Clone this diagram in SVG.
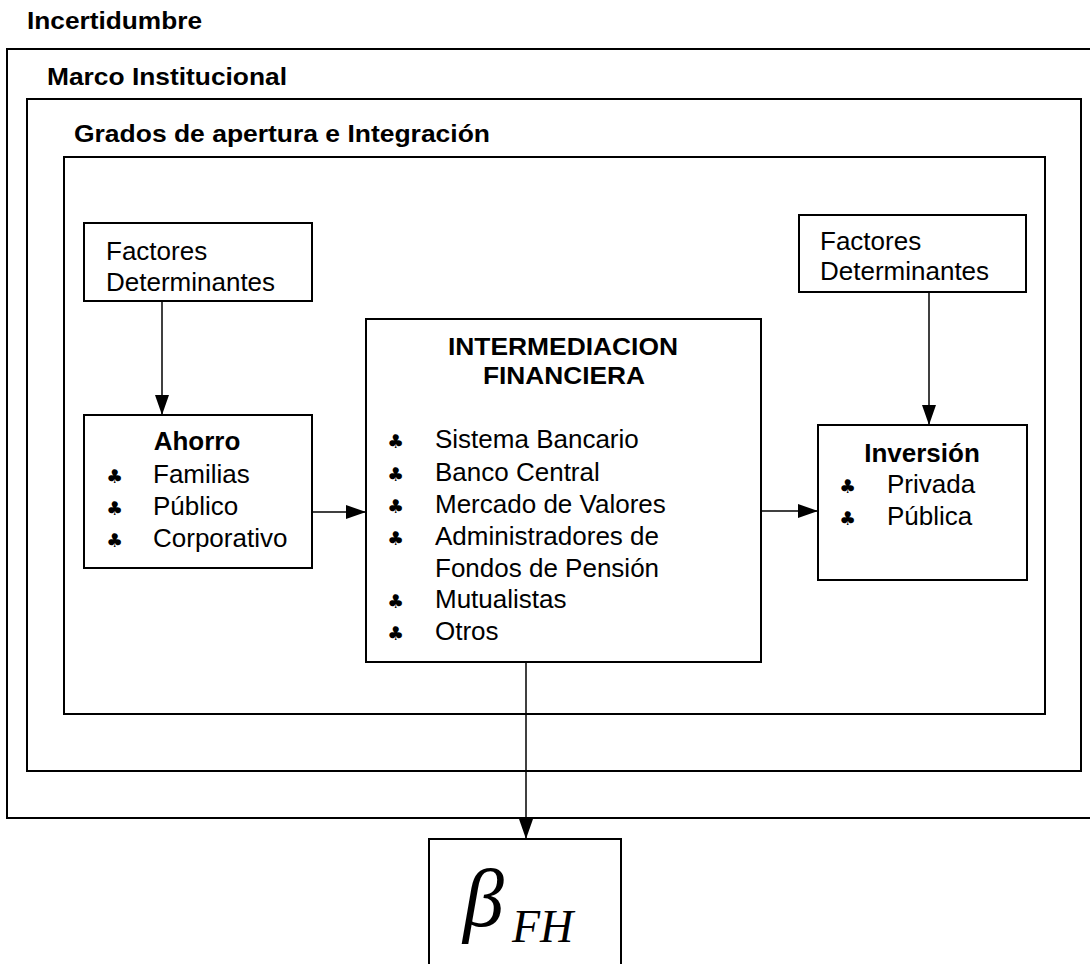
<svg xmlns="http://www.w3.org/2000/svg" width="1090" height="964" viewBox="0 0 1090 964">
<style>
.frame{fill:none;stroke:#000;stroke-width:2}
.box{fill:#fff;stroke:#000;stroke-width:2}
.lbl{font-family:"Liberation Sans",Arial,sans-serif;font-weight:bold;font-size:24px;fill:#000}
.ttl{font-family:"Liberation Sans",Arial,sans-serif;font-weight:bold;font-size:26px;fill:#000}
.txt{font-family:"Liberation Sans",Arial,sans-serif;font-size:26px;fill:#000}
.bul{font-family:"DejaVu Sans",sans-serif;font-size:19px;fill:#000;text-anchor:middle}
.conn{fill:none;stroke:#000;stroke-width:1.5}
.math{font-family:"Liberation Serif","Times New Roman",serif;font-style:italic;fill:#000}
</style>
<defs>
<marker id="arr" markerUnits="userSpaceOnUse" markerWidth="20" markerHeight="14" refX="20" refY="7" orient="auto">
<path d="M0,0 L20,7 L0,14 z" fill="#000"/>
</marker>
</defs>
<rect width="1090" height="964" fill="#fff"/>
<g id="incertidumbre">
<rect class="frame" x="7" y="49" width="1100" height="769"/>
<text class="lbl" x="27" y="29" textLength="175" lengthAdjust="spacingAndGlyphs">Incertidumbre</text>
</g>
<g id="marco">
<rect class="frame" x="27" y="99" width="1054" height="672"/>
<text class="lbl" x="47" y="85" textLength="240" lengthAdjust="spacingAndGlyphs">Marco Institucional</text>
</g>
<g id="grados">
<rect class="frame" x="64" y="157" width="981" height="557"/>
<text class="lbl" x="74" y="142" textLength="416" lengthAdjust="spacingAndGlyphs">Grados de apertura e Integración</text>
</g>
<g id="factores-izq">
<rect class="box" x="84" y="223" width="228" height="78"/>
<text class="txt" x="106" y="260">Factores</text>
<text class="txt" x="106" y="291">Determinantes</text>
</g>
<g id="ahorro">
<rect class="box" x="84" y="415" width="228" height="153"/>
<text class="ttl" x="197" y="450" text-anchor="middle">Ahorro</text>
<text class="bul" x="114.5" y="483">♣</text><text class="txt" x="153" y="483">Familias</text>
<text class="bul" x="114.5" y="515">♣</text><text class="txt" x="153" y="515">Público</text>
<text class="bul" x="114.5" y="547">♣</text><text class="txt" x="153" y="547">Corporativo</text>
</g>
<g id="intermediacion">
<rect class="box" x="366" y="319" width="395" height="343"/>
<text class="lbl" x="448" y="355" textLength="230" lengthAdjust="spacingAndGlyphs">INTERMEDIACION</text>
<text class="lbl" x="483" y="384" textLength="162" lengthAdjust="spacingAndGlyphs">FINANCIERA</text>
<text class="bul" x="395.5" y="448">♣</text><text class="txt" x="435" y="448">Sistema Bancario</text>
<text class="bul" x="395.5" y="481">♣</text><text class="txt" x="435" y="481">Banco Central</text>
<text class="bul" x="395.5" y="513">♣</text><text class="txt" x="435" y="513">Mercado de Valores</text>
<text class="bul" x="395.5" y="545">♣</text><text class="txt" x="435" y="545">Administradores de</text>
<text class="txt" x="435" y="577">Fondos de Pensión</text>
<text class="bul" x="395.5" y="608">♣</text><text class="txt" x="435" y="608">Mutualistas</text>
<text class="bul" x="395.5" y="640">♣</text><text class="txt" x="435" y="640">Otros</text>
</g>
<g id="factores-der">
<rect class="box" x="799" y="215" width="227" height="77"/>
<text class="txt" x="820" y="250">Factores</text>
<text class="txt" x="820" y="280">Determinantes</text>
</g>
<g id="inversion">
<rect class="box" x="818" y="425" width="209" height="155"/>
<text class="ttl" x="922" y="462" text-anchor="middle">Inversión</text>
<text class="bul" x="847.5" y="493">♣</text><text class="txt" x="887" y="493">Privada</text>
<text class="bul" x="847.5" y="525">♣</text><text class="txt" x="887" y="525">Pública</text>
</g>
<g id="beta">
<rect class="box" x="429" y="839" width="192" height="140"/>
<text class="math" x="463" y="926" font-size="82">β</text>
<text class="math" x="512" y="942" font-size="46">FH</text>
</g>
<g id="connectors">
<line class="conn" x1="162" y1="301" x2="162" y2="415" marker-end="url(#arr)"/>
<line class="conn" x1="929" y1="292" x2="929" y2="425" marker-end="url(#arr)"/>
<line class="conn" x1="312" y1="512" x2="366" y2="512" marker-end="url(#arr)"/>
<line class="conn" x1="761" y1="511" x2="818" y2="511" marker-end="url(#arr)"/>
<line class="conn" x1="526" y1="662" x2="526" y2="839" marker-end="url(#arr)"/>
</g>
</svg>
